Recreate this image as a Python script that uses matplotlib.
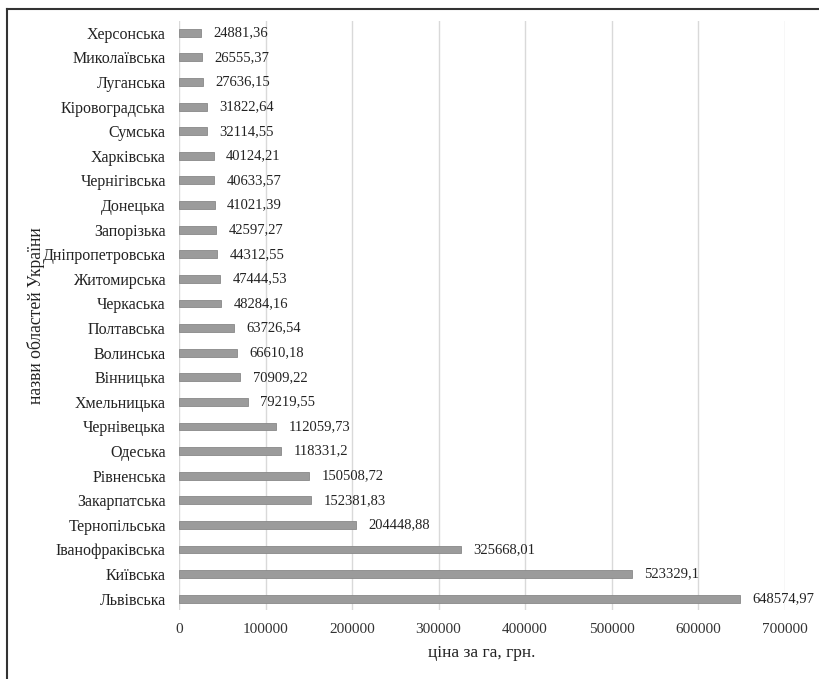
import matplotlib
matplotlib.use("Agg")
import matplotlib.pyplot as plt
from matplotlib.lines import Line2D

regions = ["Львівська", "Київська", "Іванофраківська", "Тернопільська", "Закарпатська",
           "Рівненська", "Одеська", "Чернівецька", "Хмельницька", "Вінницька",
           "Волинська", "Полтавська", "Черкаська", "Житомирська", "Дніпропетровська",
           "Запорізька", "Донецька", "Чернігівська", "Харківська", "Сумська",
           "Кіровоградська", "Луганська", "Миколаївська", "Херсонська"]
prices = [648574.97, 523329.1, 325668.01, 204448.88, 152381.83,
          150508.72, 118331.2, 112059.73, 79219.55, 70909.22,
          66610.18, 63726.54, 48284.16, 47444.53, 44312.55,
          42597.27, 41021.39, 40633.57, 40124.21, 32114.55,
          31822.64, 27636.15, 26555.37, 24881.36]
price_labels = ["648574,97", "523329,1", "325668,01", "204448,88", "152381,83",
                "150508,72", "118331,2", "112059,73", "79219,55", "70909,22",
                "66610,18", "63726,54", "48284,16", "47444,53", "44312,55",
                "42597,27", "41021,39", "40633,57", "40124,21", "32114,55",
                "31822,64", "27636,15", "26555,37", "24881,36"]
xticks = [0, 100000, 200000, 300000, 400000, 500000, 600000, 700000]

plt.rcParams['font.family'] = ['Liberation Serif', 'DejaVu Serif']
fig = plt.figure(figsize=(8.19, 6.79), dpi=100)
ax = fig.add_axes([0.2186, 0.1016, 0.7393, 0.8675])

y = list(range(len(regions)))
ax.barh(y, prices, height=0.32, color='#9b9b9b', edgecolor='#888888', linewidth=0.6, zorder=3)
for yi, v, lab in zip(y, prices, price_labels):
    ax.annotate(lab, (v, yi), xytext=(9, 0), textcoords='offset points',
                va='center', ha='left', fontsize=10.5, color='#222222')

ax.set_yticks(y)
ax.set_yticklabels(regions, fontsize=11.5, color='#222222')
ax.set_xticks(xticks)
ax.set_xticklabels([str(t) for t in xticks], fontsize=11, color='#333333')
ax.set_xlim(0, 700000)
ax.set_ylim(-0.46, 23.48)
ax.tick_params(axis='y', length=0, pad=9.5)
ax.tick_params(axis='x', length=0, pad=9.5)
ax.xaxis.grid(True, color='#d9d9d9', linewidth=1.0, zorder=0)
ax.set_axisbelow(True)
for s in ax.spines.values():
    s.set_visible(False)

ax.set_xlabel("ціна за га, грн.", fontsize=12.5, color='#222222', labelpad=6)
ax.set_ylabel("назви областей України", fontsize=12.7, color='#222222')
ax.yaxis.set_label_coords(-0.222, 0.5)

fig.add_artist(Line2D([7/819, 7/819], [0, 1 - 9/679], transform=fig.transFigure, color='#333333', linewidth=1.5))
fig.add_artist(Line2D([7/819, 1], [1 - 9/679, 1 - 9/679], transform=fig.transFigure, color='#333333', linewidth=1.5))

fig.savefig("out.png", dpi=100)
